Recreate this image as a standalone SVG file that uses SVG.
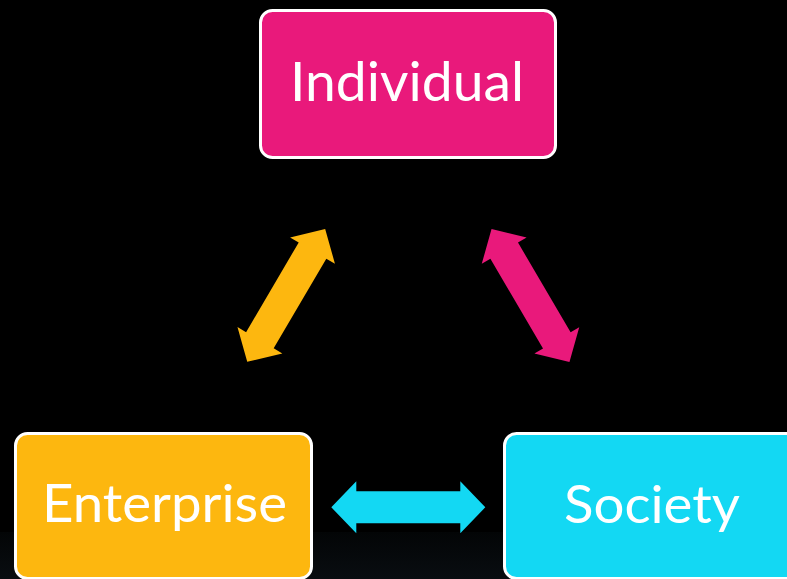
<svg xmlns="http://www.w3.org/2000/svg" width="787" height="579" viewBox="0 0 787 579">
  <defs>
    <linearGradient id="bottomGlow" x1="0" y1="0" x2="0" y2="1">
      <stop offset="0" stop-color="#030506"/>
      <stop offset="1" stop-color="#090d11"/>
    </linearGradient>
    <path id="dblArrow" d="M-77,0 L-52,-26 L-52,-16 L52,-16 L52,-26 L77,0 L52,26 L52,16 L-52,16 L-52,26 Z"/>
  </defs>
  <style>
    .box { stroke: #ffffff; stroke-width: 3; }
    .label { font-family: Lato, "Open Sans", "Liberation Sans", sans-serif; fill: #ffffff; text-anchor: middle; }
  </style>
  <rect x="0" y="0" width="787" height="579" fill="#000000"/>
  <rect x="0" y="532" width="787" height="47" fill="url(#bottomGlow)"/>

  <g id="connectors">
    <use href="#dblArrow" fill="#FDB70F" transform="translate(286.2,295.4) rotate(-59.6)"/>
    <use href="#dblArrow" fill="#E9197B" transform="translate(530.5,295.5) rotate(59.6)"/>
    <use href="#dblArrow" fill="#13D8F3" transform="translate(408.3,507.3)"/>
  </g>

  <g id="node-individual">
    <rect class="box" x="260.5" y="10.5" width="295" height="147" rx="12" fill="#E9197B"/>
    <text class="label" x="407" y="101" font-size="55" textLength="234" lengthAdjust="spacingAndGlyphs">Individual</text>
  </g>

  <g id="node-enterprise">
    <rect class="box" x="15.5" y="433.5" width="296" height="145" rx="12" fill="#FDB70F"/>
    <text class="label" x="164.5" y="522" font-size="52" textLength="245" lengthAdjust="spacingAndGlyphs">Enterprise</text>
  </g>

  <g id="node-society">
    <rect class="box" x="504.5" y="433.5" width="300" height="145" rx="12" fill="#13D8F3"/>
    <text class="label" x="652" y="522.5" font-size="52" textLength="176" lengthAdjust="spacingAndGlyphs">Society</text>
  </g>
</svg>
